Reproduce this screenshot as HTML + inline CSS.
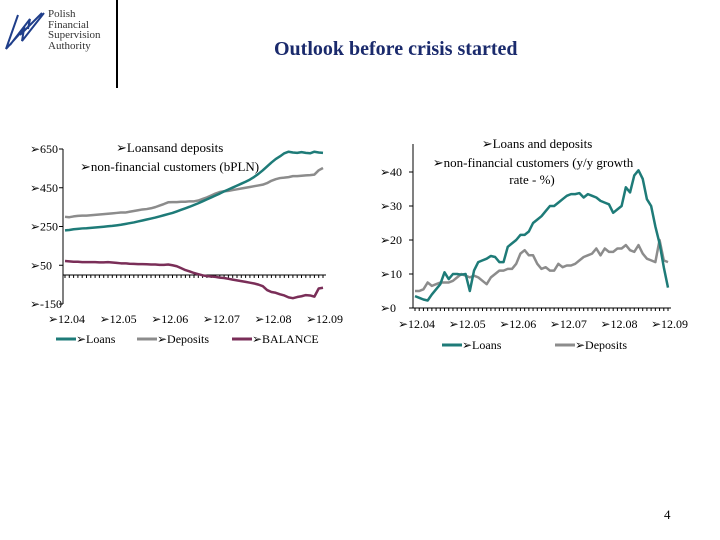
<!DOCTYPE html>
<html><head><meta charset="utf-8"><style>
body{margin:0;width:720px;height:540px;background:#fff;overflow:hidden;position:relative;font-family:"Liberation Serif","DejaVu Serif",serif;}
.t{position:absolute;white-space:nowrap;color:#000;}
</style></head><body>
<div style="position:absolute;left:2px;top:5px;width:110px;height:50px;">
<svg width="45" height="50" style="position:absolute;left:0;top:0"><path d="M16 10 L4 44 L22 24 L20 36 L42 8 M26 24 L28 14 L8 40 M18 30 L40 8" fill="none" stroke="#1f3e8a" stroke-width="2"/></svg>
<div class="t" style="left:46px;top:4px;font-size:11px;line-height:10.5px;color:#333;">Polish<br>Financial<br>Supervision<br>Authority</div>
</div>
<div style="position:absolute;left:116px;top:0;width:2px;height:88px;background:#000"></div>
<div class="t" style="left:274px;top:38px;font-size:20px;font-weight:bold;color:#1a2a6c;">Outlook before crisis started</div>
<div class="t" style="left:664px;top:507px;font-size:13px;">4</div>
<svg id="c" width="720" height="540" style="position:absolute;left:0;top:0" font-family="Liberation Serif, DejaVu Serif, serif"></svg>
<script>
const months=["12.04","12.05","12.06","12.07","12.08","12.09"];
const leftTicks=[650,450,250,50,-150];
const loans=[230,232,236,238,240,241,243,245,247,249,251,253,256,259,263,267,271,276,281,286,291,296,302,308,314,320,328,336,344,352,361,370,380,390,400,410,420,431,441,451,461,471,481,492,506,522,540,560,580,598,612,628,636,632,630,634,630,628,636,632,630];
const deposits=[300,298,302,305,306,306,308,310,312,314,316,318,320,322,322,326,330,334,338,340,344,350,358,366,375,376,376,378,378,380,380,384,392,400,410,420,428,432,434,438,442,446,450,454,458,462,466,474,486,494,500,502,505,510,510,512,514,515,518,540,552];
const balance=[72,70,68,68,66,66,66,66,65,65,66,64,62,60,60,58,57,56,56,55,54,54,52,52,54,50,45,35,25,18,10,4,-2,-6,-8,-10,-14,-16,-20,-24,-28,-32,-36,-40,-44,-50,-58,-78,-88,-92,-100,-106,-116,-120,-114,-110,-104,-106,-112,-70,-66];
const rightTicks=[40,30,20,10,0];
const gLoans=[3.5,3,2.5,2.2,4,5.5,7,10.5,8.5,10,10,9.8,10,5,11,13.5,14,14.5,15.3,15,13.5,13.5,18,19,20,21.5,21.5,22.5,25,26,27,28.5,30,30,31,32,33,33.5,33.5,33.8,32.5,33.5,33,32.5,31.5,31,30.5,28,29,30,35.5,34,39,40.5,38,32,30,24,19,12,6];
const gDeposits=[5,5,5.5,7.5,6.5,7,7.5,7.5,7.5,8,9,10,9.5,9,9.5,9,8,7,9,10,11,11,11.5,11.5,13,16,17,15.5,15.5,13,11.5,12,11,11,13,12,12.5,12.5,13,14,15,15.5,16,17.5,15.5,17.5,16.5,16.5,17.5,17.5,18.5,17,16.5,18.5,16,14.5,14,13.5,20,14,13.5];
const NS="http://www.w3.org/2000/svg";const svg=document.getElementById('c');
function mk(t,a,p){const e=document.createElementNS(NS,t);for(const k in a)e.setAttribute(k,a[k]);(p||svg).appendChild(e);return e;}
function txt(x,y,s,size,anchor){const e=mk('text',{x:x,y:y,'font-size':size||12,'text-anchor':anchor||'start',fill:'#000'});e.textContent=s;return e;}
function chart(o){
 const xs=i=>o.x0+(o.x1-o.x0)*i/60, ys=v=>o.yb+(o.yt-o.yb)*(v-o.vmin)/(o.vmax-o.vmin);
 const ya=mk('line',{x1:o.ax,y1:o.ytop,x2:o.ax,y2:ys(o.vmin),stroke:'#000'});
 
 const xa=mk('line',{x1:o.ax,y1:ys(0),x2:o.x1+3,y2:ys(0),stroke:'#000'});
 
 for(let i=0;i<=60;i++)mk('line',{x1:xs(i),y1:ys(0),x2:xs(i),y2:ys(0)+3,stroke:'#000'});
 o.ticks.forEach(v=>{mk('line',{x1:o.ax-4,y1:ys(v),x2:o.ax,y2:ys(v),stroke:'#000'});const t=txt(o.ax-33,ys(v)+4,'➢'+v,12);});
 months.forEach((m,i)=>{const t=txt(xs(i*12)-17,o.xly,'➢'+m,12);});
 o.series.forEach(s=>{const p=mk('polyline',{points:s.d.map((v,i)=>xs(i)+','+ys(v)).join(' '),fill:'none',stroke:s.c,'stroke-width':2.5,'stroke-linejoin':'round'});});
}
chart({n:'left',x0:65,x1:323,ax:63,yt:149,yb:304,ytop:149,vmin:-150,vmax:650,ticks:leftTicks,xly:323,series:[{d:deposits,c:'#8c8c8c',name:'deposits-line'},{d:loans,c:'#1e7b78',name:'loans-line'},{d:balance,c:'#7a2e58',name:'balance-line'}]});
chart({n:'right',x0:415,x1:668,ax:413,yt:172,yb:308,ytop:144,vmin:0,vmax:40,ticks:rightTicks,xly:328,series:[{d:gDeposits,c:'#8c8c8c',name:'growth-deposits-line'},{d:gLoans,c:'#1e7b78',name:'growth-loans-line'}]});
function leg(x,y,c,l,n){const g=mk('g',{});mk('line',{x1:x,y1:y-4,x2:x+20,y2:y-4,stroke:c,'stroke-width':3},g);const t=txt(x+20,y,'➢'+l,12);g.appendChild(t);}
leg(56,343,'#1e7b78','Loans','legend-loans');leg(137,343,'#8c8c8c','Deposits','legend-deposits');leg(232,343,'#7a2e58','BALANCE','legend-balance');
leg(442,349,'#1e7b78','Loans','legend-growth-loans');leg(555,349,'#8c8c8c','Deposits','legend-growth-deposits');
let t;
t=txt(116,152,'➢Loansand deposits',13);
t=txt(80,171,'➢non-financial customers (bPLN)',13);
t=txt(537,148,'➢Loans and deposits',13,'middle');
t=txt(533,167,'➢non-financial customers (y/y growth',13,'middle');
t=txt(532,184,'rate - %)',13,'middle');
</script>
</body></html>
